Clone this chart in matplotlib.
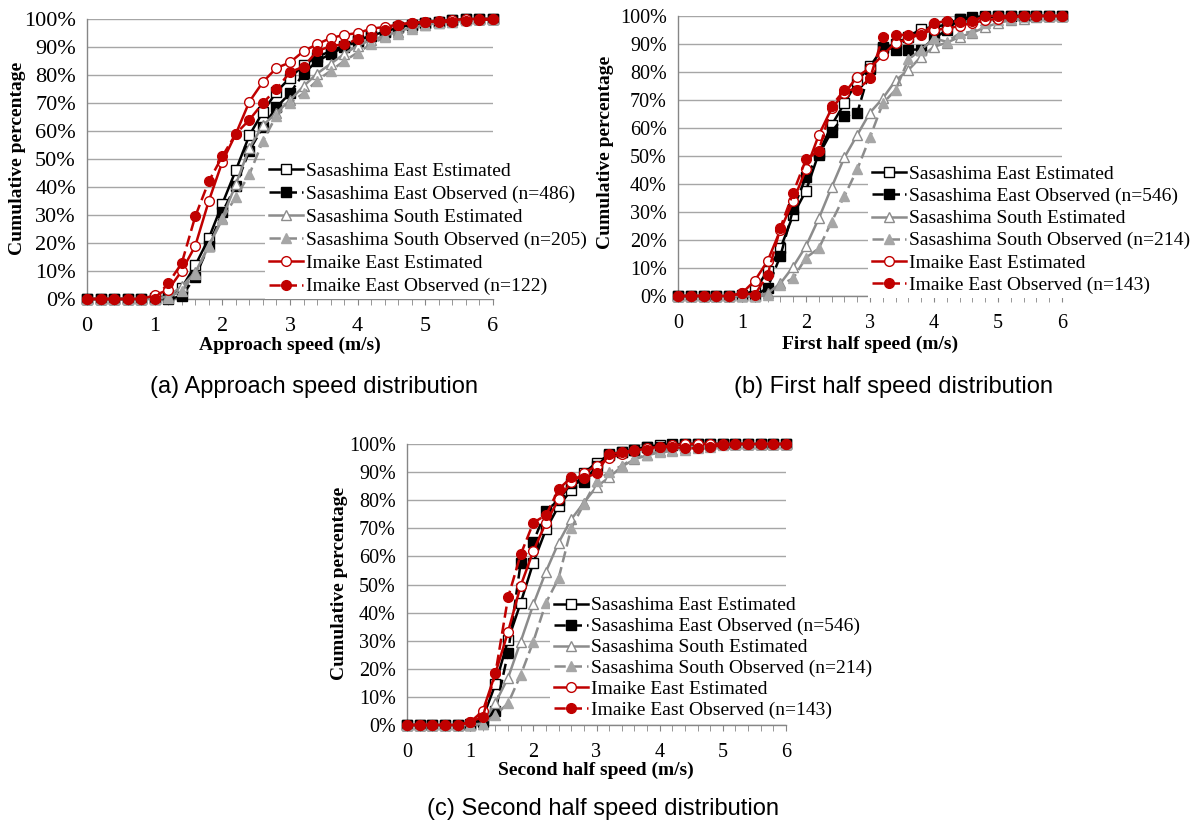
import matplotlib
matplotlib.use('Agg')
import matplotlib.pyplot as plt
from matplotlib.ticker import FixedLocator, FuncFormatter

W, H = 1195, 826

speed = [0.0, 0.2, 0.4, 0.6, 0.8, 1.0, 1.2, 1.4, 1.6, 1.8, 2.0, 2.2, 2.4, 2.6, 2.8, 3.0,
         3.2, 3.4, 3.6, 3.8, 4.0, 4.2, 4.4, 4.6, 4.8, 5.0, 5.2, 5.4, 5.6, 5.8, 6.0]

# (a) approach speed
a_se_est = [0, 0, 0, 0, 0, 0.3, 1, 4, 12, 21.7, 34, 46, 58.5, 66.8, 74, 79, 83.5, 86.5, 88.5, 90.5,
            92.5, 94, 95.5, 97, 98, 98.5, 99, 99.5, 100, 100, 100]
a_se_obs = [0, 0, 0, 0, 0, 0, 0, 1, 8, 19, 31, 40.5, 53, 61.5, 68.5, 73.5, 80.5, 85, 87.5, 90,
            92, 94, 95.5, 97, 98, 98.5, 99, 99.5, 100, 100, 100]
a_ss_est = [0, 0, 0, 0, 0, 0, 1, 4.5, 9.5, 19, 29, 41, 54, 62, 66.5, 71, 76, 80.5, 84, 87.5,
            90.5, 92.5, 94, 95.5, 97, 98, 98.5, 99, 99.5, 100, 100]
a_ss_obs = [0, 0, 0, 0, 0, 0, 0.5, 3, 9, 19, 28.5, 36.5, 44.5, 56.5, 65.5, 70, 73.5, 78, 81.5, 85,
            88, 91, 93.5, 94.5, 96.5, 98, 98.5, 99, 99.5, 100, 100]
a_ie_est = [0, 0, 0, 0, 0, 1.3, 3.3, 10, 19, 35, 49, 59, 70.5, 77.5, 82.5, 84.5, 88.5, 91, 93.2, 94.3,
            95, 96.5, 97.2, 98, 98.5, 99, 99.3, 99.6, 100, 100, 100]
a_ie_obs = [0, 0, 0, 0, 0, 0, 5.6, 12.8, 29.5, 42, 51, 59, 64, 70, 75, 81, 83, 88.5, 90.3, 91,
            92.7, 93.7, 96, 98, 98.7, 99, 99, 99, 99.2, 99.5, 100]
a_n = [486, 205, 122]

# (b) first half speed
b_se_est = [0, 0, 0, 0, 0, 0.3, 2, 9, 17, 29, 37.6, 51, 61, 68.8, 76.8, 82, 88.5, 90, 92.5, 95.5,
            96, 97, 99, 99, 99.5, 100, 100, 100, 100, 100, 100]
b_se_obs = [0, 0, 0, 0, 0, 0, 0, 3, 14.3, 31, 42.6, 50.4, 58.7, 64.3, 65.3, 81, 89, 88, 88, 88,
            92, 95, 99, 99.5, 100, 100, 100, 100, 100, 100, 100]
b_ss_est = [0, 0, 0, 0, 0, 0, 0, 1, 4.5, 10.5, 17.8, 27.7, 38.8, 49.5, 57.5, 65.5, 70.6, 77, 80.7, 85.5,
            89, 90.5, 92.5, 94, 96, 97.5, 98.5, 99, 99.5, 100, 100]
b_ss_obs = [0, 0, 0, 0, 0, 0, 0, 0.5, 4, 6.3, 13.7, 17, 26.5, 35.7, 45.2, 56.7, 68.8, 73.6, 84.5, 88,
            92, 90.8, 93.8, 94.4, 97.5, 98.5, 99, 99.5, 100, 100, 100]
b_ie_est = [0, 0, 0, 0, 0, 1, 5.5, 12.5, 23.6, 34, 45.2, 57.5, 67, 72.4, 78.3, 81.5, 86, 90.5, 91.7, 93.8,
            95, 95.5, 96.5, 97.5, 98.5, 99, 99.5, 100, 100, 100, 100]
b_ie_obs = [0, 0, 0, 0, 0, 1, 0.5, 7.5, 24.4, 36.9, 48.8, 51.8, 67.9, 73.6, 73.6, 77.7, 92.6, 93.3, 93.2, 93.2,
            97.4, 98.3, 97.9, 98.3, 100, 100, 100, 100, 100, 100, 100]
b_n = [546, 214, 143]

# (c) second half speed
c_se_est = [0, 0, 0, 0, 0, 0.3, 2.5, 14.5, 30.2, 43.5, 57.8, 69.6, 77.9, 83.6, 89.6, 93.4, 96, 97, 98, 99,
            99.5, 100, 100, 100, 100, 100, 100, 100, 100, 100, 100]
c_se_obs = [0, 0, 0, 0, 0, 0, 1, 5, 25.7, 57.8, 65.2, 76.2, 80, 86, 86.6, 92, 96.5, 97, 98, 99,
            99, 99.5, 100, 100, 100, 100, 100, 100, 100, 100, 100]
c_ss_est = [0, 0, 0, 0, 0, 0, 0.5, 7.9, 16.8, 29.7, 42.9, 54.6, 64.9, 73.2, 79.1, 84.8, 88.1, 92, 94.5, 96,
            97.5, 98, 98.5, 99, 99.5, 100, 100, 100, 100, 100, 100]
c_ss_obs = [0, 0, 0, 0, 0, 0, 0.5, 3.6, 7.7, 17.8, 29.7, 43.5, 52.2, 70, 78.6, 87, 89.9, 92.3, 95, 96,
            97, 97.5, 98, 98.5, 99, 99.5, 100, 100, 100, 100, 100]
c_ie_est = [0, 0, 0, 0, 0, 1, 5, 18.4, 33.2, 49.6, 61.9, 72, 80.3, 86.4, 89.6, 92.3, 94.9, 96.5, 97.5, 98.5,
            99, 99.5, 100, 100, 100, 100, 100, 100, 100, 100, 100]
c_ie_obs = [0, 0, 0, 0, 0, 1, 3, 18.4, 45.4, 60.7, 72, 74.7, 83.9, 88.1, 87.8, 89.6, 96.4, 97, 97.9, 98,
            99, 99, 98.5, 98.5, 99, 99.5, 100, 100, 100, 100, 100]
c_n = [546, 214, 143]

RED = '#c00000'
GRAY = '#8c8c8c'
GRAY_FILL = '#a6a6a6'
GRID = '#a6a6a6'
SERIF = 'Liberation Serif'
SANS = 'Liberation Sans'

plt.rcParams['font.family'] = SERIF


def px_x(p):
    return p / W


def px_y(p):
    return 1 - p / H


def panel(fig, box, series, ns, xlabel, caption, leg_anchor, leg_space, tick_size,
          ylab_pos, xlab_pos, cap_pos):
    left, top, right, bottom = box
    ax = fig.add_axes([px_x(left), px_y(bottom), (right - left) / W, (bottom - top) / H])

    se_est, se_obs, ss_est, ss_obs, ie_est, ie_obs = series
    labels = ['Sasashima East Estimated', 'Sasashima East Observed (n=%d)' % ns[0],
              'Sasashima South Estimated', 'Sasashima South Observed (n=%d)' % ns[1],
              'Imaike East Estimated', 'Imaike East Observed (n=%d)' % ns[2]]
    styles = [('k', '-', 's', 'white', 'k'),
              ('k', '--', 's', 'k', 'k'),
              (GRAY, '-', '^', 'white', GRAY),
              (GRAY, '--', '^', GRAY_FILL, GRAY_FILL),
              (RED, '-', 'o', 'white', RED),
              (RED, '--', 'o', RED, RED)]
    for vals, lab, (c, ls, m, mfc, mec) in zip([se_est, se_obs, ss_est, ss_obs, ie_est, ie_obs],
                                               labels, styles):
        line, = ax.plot(speed, vals, color=c, ls=ls, lw=1.8, marker=m, ms=7.5 if m == '^' else 7,
                        mfc=mfc, mec=mec, mew=1.0, label=lab, clip_on=False, zorder=3)
        if ls == '--':
            line.set_dashes((4.5, 2))

    ax.set_xlim(0, 6)
    ax.set_ylim(0, 100)
    ax.yaxis.set_major_locator(FixedLocator(range(0, 101, 10)))
    ax.yaxis.set_major_formatter(FuncFormatter(lambda v, p: '%d%%' % v))
    ax.xaxis.set_major_locator(FixedLocator(range(0, 7)))
    ax.xaxis.set_minor_locator(FixedLocator(speed))
    ax.grid(axis='y', color=GRID, lw=1.0, zorder=0)
    ax.set_axisbelow(True)
    for s in ['top', 'right']:
        ax.spines[s].set_visible(False)
    for s in ['left', 'bottom']:
        ax.spines[s].set_color('#868686')
        ax.spines[s].set_linewidth(1.0)
    ax.tick_params(axis='y', length=0, pad=8, labelsize=tick_size)
    ax.tick_params(axis='x', which='both', direction='out', length=4, color='#868686',
                   pad=9, labelsize=tick_size)
    ax.tick_params(axis='x', which='minor', length=4)

    leg = ax.legend(loc='upper left', bbox_to_anchor=leg_anchor, borderaxespad=0, fontsize=14,
                    frameon=True, facecolor='white', edgecolor='none', framealpha=1,
                    fancybox=False, borderpad=0.2, labelspacing=leg_space, handlelength=1.75,
                    handletextpad=0.15)
    leg.set_zorder(5)

    fig.text(px_x(ylab_pos[0]), px_y(ylab_pos[1]), 'Cumulative percentage', rotation=90,
             ha='center', va='center', fontsize=14, fontweight='bold')
    fig.text(px_x(xlab_pos[0]), px_y(xlab_pos[1]), xlabel, ha='center', va='center',
             fontsize=14, fontweight='bold')
    fig.text(px_x(cap_pos[0]), px_y(cap_pos[1]), caption, ha='center', va='center',
             fontsize=17, family=SANS)
    return ax


fig = plt.figure(figsize=(W / 100, H / 100), dpi=100)

panel(fig, (87, 19, 493, 299), [a_se_est, a_se_obs, a_ss_est, a_ss_obs, a_ie_est, a_ie_obs], a_n,
      'Approach speed (m/s)', '(a) Approach speed distribution', (0.438, 0.502), 0.28, 16,
      (17.5, 158), (290, 345), (314, 387))
panel(fig, (678, 16, 1062, 296), [b_se_est, b_se_obs, b_ss_est, b_ss_obs, b_ie_est, b_ie_obs], b_n,
      'First half speed (m/s)', '(b) First half speed distribution', (0.494, 0.48), 0.23, 14.5,
      (605, 152), (870, 344), (894, 387))
panel(fig, (407, 444, 786, 725), [c_se_est, c_se_obs, c_ss_est, c_ss_obs, c_ie_est, c_ie_obs], c_n,
      'Second half speed (m/s)', '(c) Second half speed distribution', (0.377, 0.47), 0.17, 14.5,
      (339, 583), (596, 770), (603, 809))

fig.savefig('out.png', dpi=100)
